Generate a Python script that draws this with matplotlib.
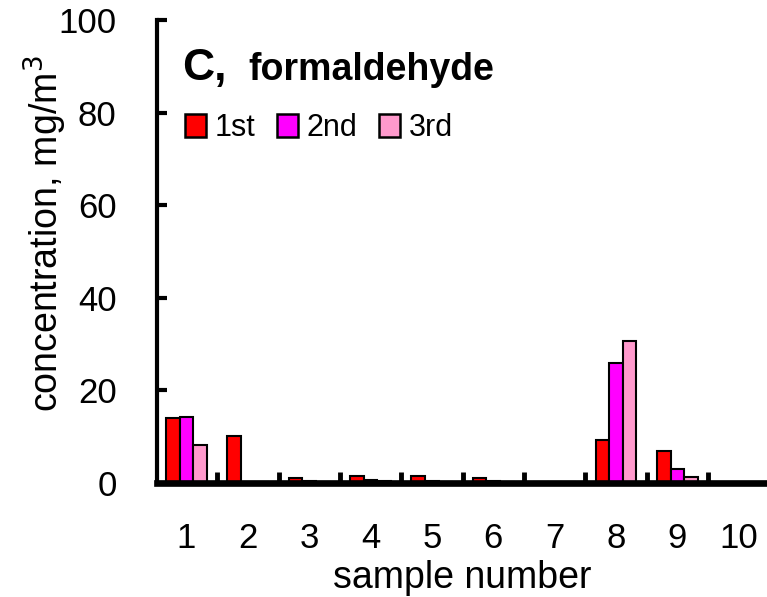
import numpy as np
import matplotlib
matplotlib.use("Agg")
import matplotlib.pyplot as plt
from matplotlib.patches import Patch

plt.rcParams['font.family'] = ['Liberation Sans', 'DejaVu Sans']

samples = ["1", "2", "3", "4", "5", "6", "7", "8", "9", "10"]
first = [14.0, 10.2, 1.0, 1.5, 1.4, 1.0, 0.2, 9.3, 6.8, 0.1]
second = [14.3, 0.3, 0.4, 0.6, 0.5, 0.5, 0.2, 26.0, 3.1, 0.1]
third = [8.1, 0.2, 0.3, 0.5, 0.3, 0.3, 0.2, 30.7, 1.2, 0.1]
series_names = ["1st", "2nd", "3rd"]
colors = ["#ff0000", "#ff00ff", "#ff99cc"]

fig = plt.figure(figsize=(7.67, 5.97), dpi=100)
# axes box: left spine at ~157 px, zero line at ~483 px, top (100) at ~20 px
ax = fig.add_axes([0.2047, 0.191, 0.7953, 0.7755])

x = np.arange(1, len(samples) + 1)
w = 0.222
for i, (vals, c) in enumerate(zip([first, second, third], colors)):
    ax.bar(x + (i - 1) * w, vals, width=w, color=c, edgecolor="black",
           linewidth=1.5, zorder=3)

ax.set_xlim(0.52, 10.46)
ax.set_ylim(0, 100)
ax.set_yticks(np.arange(0, 101, 20))
ax.set_xticks(x)
ax.set_xticklabels(samples)
ax.set_xticks(np.arange(1.5, 10.5, 1.0), minor=True)

for s in ["top", "right"]:
    ax.spines[s].set_visible(False)
ax.spines["left"].set_linewidth(3.0)
ax.spines["bottom"].set_linewidth(4.8)
ax.spines["bottom"].set_zorder(4)
ax.spines["bottom"].set_capstyle("projecting")

ax.tick_params(axis="y", direction="in", length=7, width=3, labelsize=25, pad=29)
ax.tick_params(axis="x", which="major", length=0, labelsize=25, pad=28)
ax.tick_params(axis="x", which="minor", direction="in", length=8, width=3.5)

ax.set_xlabel("sample number", fontsize=27)
ax.xaxis.set_label_coords(0.5, -0.166)
ax.set_ylabel("concentration, mg/m$^3$", fontsize=27)
ax.yaxis.set_label_coords(-0.145, 0.538)

ax.text(0.042, 0.870, "C,", transform=ax.transAxes, fontsize=32,
        fontweight="bold", va="baseline")
ax.text(0.150, 0.870, "formaldehyde", transform=ax.transAxes, fontsize=27,
        fontweight="bold", va="baseline")

handles = [Patch(facecolor=c, edgecolor="black", linewidth=1.8) for c in colors]
ax.legend(handles, series_names, loc="center left", bbox_to_anchor=(0.0456, 0.766),
          ncol=3, frameon=False, fontsize=22, handlelength=0.68,
          handleheight=0.75, handletextpad=0.3, columnspacing=0.7,
          borderpad=0, borderaxespad=0)

fig.savefig("out.png", dpi=100)
